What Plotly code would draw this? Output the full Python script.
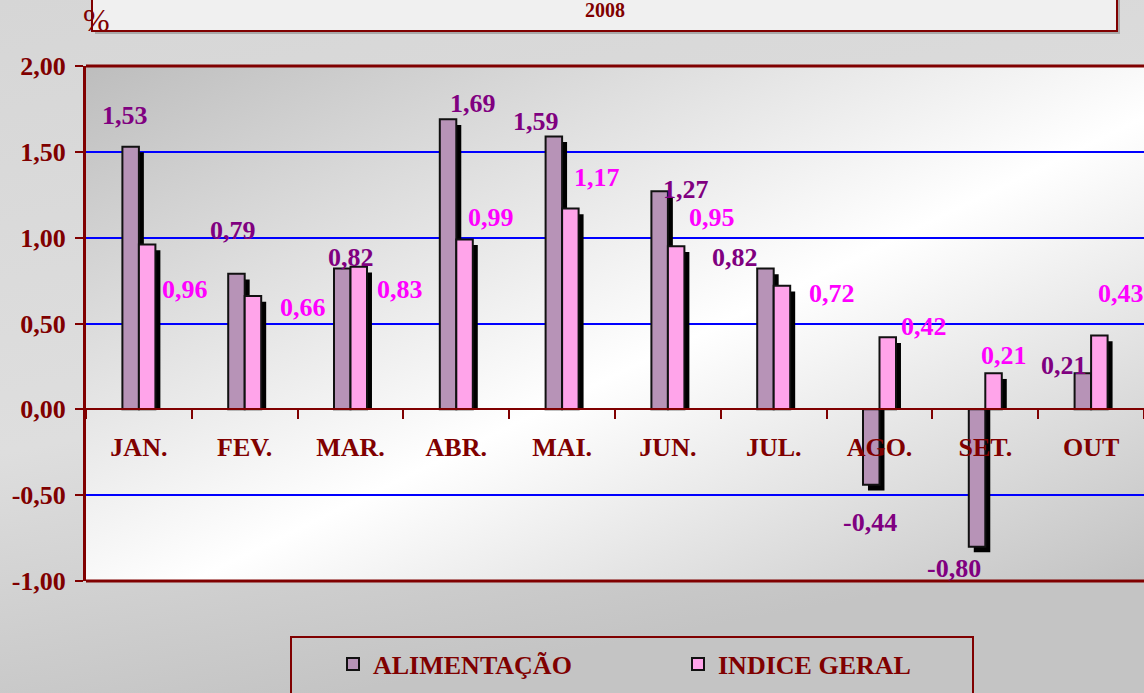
import base64
import plotly.graph_objects as go

# ---------------- data ----------------
months = ["JAN.", "FEV.", "MAR.", "ABR.", "MAI.", "JUN.", "JUL.", "AGO.", "SET.", "OUT"]
alimentacao = [1.53, 0.79, 0.82, 1.69, 1.59, 1.27, 0.82, -0.44, -0.80, 0.21]
indice_geral = [0.96, 0.66, 0.83, 0.99, 1.17, 0.95, 0.72, 0.42, 0.21, 0.43]
alim_labels = ["1,53", "0,79", "0,82", "1,69", "1,59", "1,27", "0,82", "-0,44", "-0,80", "0,21"]
ind_labels = ["0,96", "0,66", "0,83", "0,99", "1,17", "0,95", "0,72", "0,42", "0,21", "0,43"]
y_tickvals = [-1.0, -0.5, 0.0, 0.5, 1.0, 1.5, 2.0]
y_ticktext = ["-1,00", "-0,50", "0,00", "0,50", "1,00", "1,50", "2,00"]
title_text = "2008"
unit_text = "%"

# ---------------- style ----------------
DARK_RED = "#800000"
PURPLE = "#800080"
MAGENTA = "#ff00ff"
FONT = "Liberation Serif"
FS = 26
# label offsets (px) relative to (category centre, bar end)
alim_dx = [-14, -12, 0, 17, -26, 18, -39, -10, -31, -27]
alim_dy = [31, 43, 11, 16, 15, 2, 11, -38, -22, 8]
ind_dx = [46, 58, 49, 35, 35, 44, 58, 44, 19, 30]
ind_dy = [-45, -11, -23, 22, 31, 29, -8, 11, 18, 42]

W, H = 1144, 693
ML, MR, MT, MB = 86, 0, 66, 112
PW, PH = W - ML - MR, H - MT - MB

BW = 0.156          # bar width (category units)
SH_X = 0.047        # shadow x shift
SH_Y = 0.033        # shadow y shift (data units)


def svg_uri(svg):
    return "data:image/svg+xml;base64," + base64.b64encode(svg.encode()).decode()


plot_bg = svg_uri(
    '<svg xmlns="http://www.w3.org/2000/svg" width="100" height="100" preserveAspectRatio="none">'
    '<defs><linearGradient id="g" x1="0" y1="0" x2="1" y2="1">'
    '<stop offset="0" stop-color="#bdbdbd"/><stop offset="0.55" stop-color="#ffffff"/>'
    '<stop offset="1" stop-color="#c2c2c2"/></linearGradient></defs>'
    '<rect width="100" height="100" fill="url(#g)"/></svg>')
paper_bg = svg_uri(
    '<svg xmlns="http://www.w3.org/2000/svg" width="100" height="100" preserveAspectRatio="none">'
    '<defs><linearGradient id="g" x1="0" y1="0" x2="0.3" y2="1">'
    '<stop offset="0" stop-color="#d6d6d6"/><stop offset="0.6" stop-color="#dedede"/>'
    '<stop offset="1" stop-color="#c4c4c4"/></linearGradient></defs>'
    '<rect width="100" height="100" fill="url(#g)"/></svg>')

fig = go.Figure()

alim_shadow = [v - SH_Y for v in alimentacao]
ind_shadow = [v - SH_Y for v in indice_geral]

fig.add_trace(go.Bar(x=months, y=alim_shadow, width=BW, offset=-BW + SH_X,
                     marker=dict(color="black", line=dict(width=0)),
                     showlegend=False, hoverinfo="skip"))
fig.add_trace(go.Bar(x=months, y=alimentacao, name="ALIMENTAÇÃO", width=BW, offset=-BW,
                     marker=dict(color="#b793b7", line=dict(color="#111111", width=2))))
fig.add_trace(go.Bar(x=months, y=ind_shadow, width=BW, offset=SH_X,
                     marker=dict(color="black", line=dict(width=0)),
                     showlegend=False, hoverinfo="skip"))
fig.add_trace(go.Bar(x=months, y=indice_geral, name="INDICE GERAL", width=BW, offset=0,
                     marker=dict(color="#ffa4ea", line=dict(color="#111111", width=2))))

annotations = []
for m, v, t, dx, dy in zip(months, alimentacao, alim_labels, alim_dx, alim_dy):
    annotations.append(dict(x=m, y=v, text=t, showarrow=False, xshift=dx, yshift=dy,
                            font=dict(family=FONT, size=FS, color=PURPLE, weight="bold")))
for m, v, t, dx, dy in zip(months, indice_geral, ind_labels, ind_dx, ind_dy):
    annotations.append(dict(x=m, y=v, text=t, showarrow=False, xshift=dx, yshift=dy,
                            font=dict(family=FONT, size=FS, color=MAGENTA, weight="bold")))
annotations.append(dict(xref="paper", yref="paper", x=(96 - ML) / PW, y=(H - MB - 20) / PH,
                        xanchor="center", yanchor="middle",
                        text=unit_text, showarrow=False,
                        font=dict(family=FONT, size=32, color=DARK_RED)))

shapes = [
    # title box shadow + box
    dict(type="rect", xref="paper", yref="paper", layer="above",
         x0=(95 - ML) / PW, x1=(1120 - ML) / PW, y0=(H - MB - 34) / PH, y1=(H - MB + 10) / PH,
         fillcolor="#a9a9a9", line=dict(width=0)),
    dict(type="rect", xref="paper", yref="paper", layer="above",
         x0=(92 - ML) / PW, x1=(1117 - ML) / PW, y0=(H - MB - 31) / PH, y1=(H - MB + 10) / PH,
         fillcolor="#f0f0f0", line=dict(color=DARK_RED, width=2)),
    # plot frame top / bottom
    dict(type="line", xref="paper", yref="paper", x0=0, x1=1, y0=1, y1=1,
         line=dict(color=DARK_RED, width=3)),
    dict(type="line", xref="paper", yref="paper", x0=0, x1=1, y0=0, y1=0,
         line=dict(color=DARK_RED, width=3)),
    # legend box
    dict(type="rect", xref="paper", yref="paper",
         x0=(291 - ML) / PW, x1=(973 - ML) / PW, y0=-(710 - (H - MB)) / PH, y1=-(637 - (H - MB)) / PH,
         line=dict(color=DARK_RED, width=2)),
]

images = [
    dict(source=paper_bg, xref="paper", yref="paper", x=-ML / PW, y=(H - MB) / PH,
         sizex=W / PW, sizey=H / PH, sizing="stretch", xanchor="left", yanchor="top",
         layer="below"),
    dict(source=plot_bg, xref="paper", yref="paper", x=0, y=1, sizex=1, sizey=1,
         sizing="stretch", xanchor="left", yanchor="top", layer="below"),
]

fig.update_layout(
    width=W, height=H,
    margin=dict(l=ML, r=MR, t=MT, b=MB),
    paper_bgcolor="#d2d2d2", plot_bgcolor="rgba(0,0,0,0)",
    barmode="overlay",
    title=dict(text=title_text, x=605 / W, xanchor="center", y=1 - 10 / H, yanchor="middle",
               font=dict(family=FONT, size=20, color=DARK_RED, weight="bold")),
    xaxis=dict(type="category", categoryorder="array", categoryarray=months,
               range=[-0.5, len(months) - 0.5],
               anchor="free", position=1 / 3,
               showline=True, linecolor=DARK_RED, linewidth=2,
               ticks="outside", tickson="boundaries", ticklen=9, tickwidth=2, tickcolor=DARK_RED,
               ticklabelstandoff=14, showgrid=False, zeroline=False,
               tickfont=dict(family=FONT, size=FS, color=DARK_RED, weight="bold")),
    yaxis=dict(range=[-1, 2], tickvals=y_tickvals, ticktext=y_ticktext,
               showline=True, linecolor=DARK_RED, linewidth=3,
               ticks="outside", ticklen=8, tickwidth=2, tickcolor=DARK_RED,
               ticklabelstandoff=4,
               showgrid=True, gridcolor="#0000ff", gridwidth=2, zeroline=False,
               tickfont=dict(family=FONT, size=FS, color=DARK_RED, weight="bold")),
    legend=dict(orientation="h", x=(333 - ML) / PW, xanchor="left",
                y=-(664 - (H - MB)) / PH, yanchor="middle",
                entrywidth=300, bgcolor="rgba(0,0,0,0)", borderwidth=0,
                font=dict(family=FONT, size=FS, color=DARK_RED, weight="bold")),
    annotations=annotations, shapes=shapes, images=images,
)

fig.write_html("out.html", config={"displayModeBar": False},
               post_script="document.body.style.margin='0';document.body.style.overflow='hidden';")
